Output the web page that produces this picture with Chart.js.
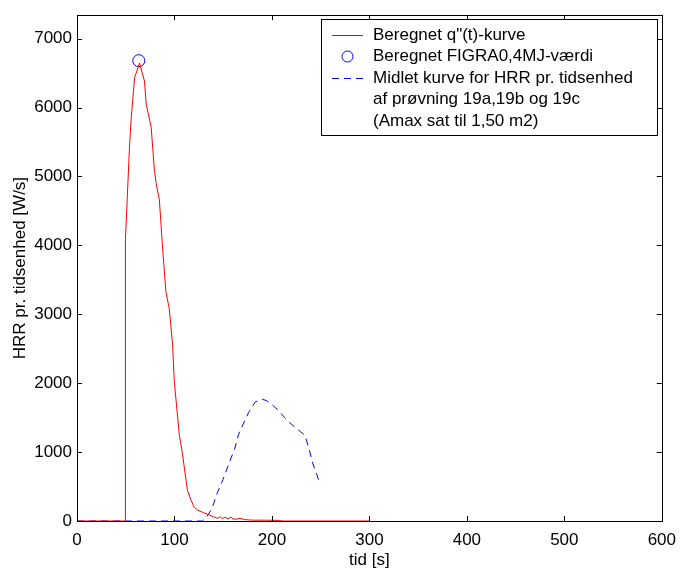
<!DOCTYPE html>
<html>
<head>
<meta charset="utf-8">
<script src="https://cdn.jsdelivr.net/npm/chart.js@4"></script>
<style>
  html, body { margin: 0; padding: 0; background: #fff; }
  #wrap { width: 685px; height: 575px; position: relative; }
</style>
</head>
<body>
<div id="wrap"><canvas id="c"></canvas></div>
<script>
// Beregnet q"(t)-kurve
const redTime = [0, 49.36, 49.46, 49.9, 54, 55.7, 59.1, 64.2, 69.2, 71, 76.1, 79.4, 81.2, 84.5, 87.9, 91.3, 94.7, 98.1, 99.8, 104.9, 108.2, 113.3, 117, 120.2, 123.5, 130, 135.4, 140, 144, 147, 149, 152, 155, 158, 160, 163, 167, 172, 177, 182, 192, 202, 209, 211, 300];
const redHrr  = [0, 0, 3300, 4085, 5474, 5858, 6433, 6648, 6384, 6049, 5714, 5091, 4899, 4660, 3941, 3319, 3079, 2553, 2026, 1260, 973, 445, 300, 200, 160, 120, 90, 60, 40, 60, 35, 55, 30, 55, 30, 25, 40, 20, 15, 12, 12, 10, 8, 0, 0];

// Beregnet FIGRA0,4MJ-værdi
const figraTime = [63.4];
const figraHrr  = [6680];

// Midlet kurve for HRR pr. tidsenhed
const blueTime = [0, 128.6, 132.7, 138.7, 143.7, 149.7, 155.8, 161.8, 165.8, 171.9, 175.9, 183, 190, 194, 200, 207, 213, 218, 224, 229, 234, 238, 242, 246, 249];
const blueHrr  = [0, 0, 50, 190, 400, 600, 830, 1050, 1260, 1450, 1570, 1730, 1765, 1750, 1690, 1600, 1500, 1430, 1355, 1300, 1240, 1050, 830, 680, 540];

const xTicks = [0, 100, 200, 300, 400, 500, 600];
const yTicks = [0, 1000, 2000, 3000, 4000, 5000, 6000, 7000];

const legendLabels = [
  'Beregnet q"(t)-kurve',
  'Beregnet FIGRA0,4MJ-værdi',
  'Midlet kurve for HRR pr. tidsenhed',
  'af prøvning 19a,19b og 19c',
  '(Amax sat til 1,50 m2)',
];

const FONT = '"Liberation Sans", Arial, sans-serif';

const toPoints = (xs, ys) => xs.map((x, i) => ({ x, y: ys[i] }));

// Ramme og indadgående tick-mærker som i MATLAB
const framePlugin = {
  id: 'frame',
  afterDraw(chart) {
    const { ctx, chartArea: a, scales } = chart;
    const L = 5;
    ctx.save();
    ctx.strokeStyle = '#000';
    ctx.lineWidth = 1;
    ctx.beginPath();
    scales.x.ticks.forEach((t) => {
      const px = Math.round(scales.x.getPixelForValue(t.value)) + 0.5;
      ctx.moveTo(px, a.bottom); ctx.lineTo(px, a.bottom - L);
      ctx.moveTo(px, a.top); ctx.lineTo(px, a.top + L);
    });
    scales.y.ticks.forEach((t) => {
      const py = Math.round(scales.y.getPixelForValue(t.value)) + 0.5;
      ctx.moveTo(a.left, py); ctx.lineTo(a.left + L, py);
      ctx.moveTo(a.right, py); ctx.lineTo(a.right - L, py);
    });
    ctx.stroke();
    ctx.strokeRect(Math.round(a.left) + 0.5, Math.round(a.top) + 0.5,
      Math.round(a.right - a.left), Math.round(a.bottom - a.top));
    ctx.restore();
  },
};

// Legende med flere linjer tekst
const legendPlugin = {
  id: 'boxLegend',
  afterDraw(chart) {
    const { ctx } = chart;
    const bx = 321, by = 19, bw = 336, bh = 116;
    const tx = 373, y0 = 35, dy = 21.5;
    ctx.save();
    ctx.fillStyle = '#fff';
    ctx.fillRect(bx, by, bw, bh);
    ctx.strokeStyle = '#000';
    ctx.lineWidth = 1;
    ctx.strokeRect(bx + 0.5, by + 0.5, bw, bh);

    // rød linje
    ctx.strokeStyle = '#ff0000';
    ctx.beginPath(); ctx.moveTo(332, y0 + 0.5); ctx.lineTo(363, y0 + 0.5); ctx.stroke();
    // blå cirkel
    ctx.strokeStyle = '#0000ff';
    ctx.beginPath(); ctx.arc(347.5, y0 + dy, 5.5, 0, Math.PI * 2); ctx.stroke();
    // blå stiplet
    ctx.setLineDash([7, 5]);
    ctx.beginPath(); ctx.moveTo(332, y0 + 2 * dy + 0.5); ctx.lineTo(363, y0 + 2 * dy + 0.5); ctx.stroke();
    ctx.setLineDash([]);

    ctx.fillStyle = '#000';
    ctx.font = '17px ' + FONT;
    ctx.textBaseline = 'middle';
    ctx.textAlign = 'left';
    legendLabels.forEach((s, i) => ctx.fillText(s, tx, y0 + i * dy));
    ctx.restore();
  },
};

new Chart(document.getElementById('c'), {
  type: 'line',
  data: {
    datasets: [
      {
        label: legendLabels[0],
        data: toPoints(redTime, redHrr),
        borderColor: '#ff0000',
        borderWidth: 1,
        pointRadius: 0,
        tension: 0,
      },
      {
        label: legendLabels[1],
        data: toPoints(figraTime, figraHrr),
        borderColor: '#0000ff',
        backgroundColor: 'transparent',
        showLine: false,
        pointRadius: 6,
        pointBorderWidth: 1,
        pointStyle: 'circle',
      },
      {
        label: legendLabels[2],
        data: toPoints(blueTime, blueHrr),
        borderColor: '#0000ff',
        borderWidth: 1,
        borderDash: [7, 5],
        pointRadius: 0,
        tension: 0,
      },
    ],
  },
  options: {
    responsive: true,
    maintainAspectRatio: false,
    animation: false,
    layout: { padding: { left: 0, right: 19, top: 10, bottom: 0 } },
    plugins: {
      legend: { display: false },
      tooltip: { enabled: false },
    },
    scales: {
      x: {
        type: 'linear',
        min: 0,
        max: 600,
        grid: { display: false, drawTicks: false },
        border: { display: false },
        afterBuildTicks: (s) => { s.ticks = xTicks.map((v) => ({ value: v })); },
        ticks: {
          padding: 9, color: '#000', font: { family: FONT, size: 17 },
          callback: (v) => String(v),
        },
        title: {
          display: true, text: 'tid [s]', color: '#000',
          font: { family: FONT, size: 17 }, padding: { top: 0, bottom: 4 },
        },
        afterFit: (s) => { s.height = 54; },
      },
      y: {
        min: 0,
        max: 7340,
        grid: { display: false, drawTicks: false },
        border: { display: false },
        afterBuildTicks: (s) => { s.ticks = yTicks.map((v) => ({ value: v })); },
        ticks: {
          padding: 5, color: '#000', font: { family: FONT, size: 17 },
          callback: (v) => String(v),
        },
        title: {
          display: true, text: 'HRR pr. tidsenhed [W/s]', color: '#000',
          font: { family: FONT, size: 17 }, padding: { top: 10, bottom: 0 },
        },
        afterFit: (s) => { s.width = 77; },
      },
    },
  },
  plugins: [framePlugin, legendPlugin],
});
</script>
</body>
</html>
